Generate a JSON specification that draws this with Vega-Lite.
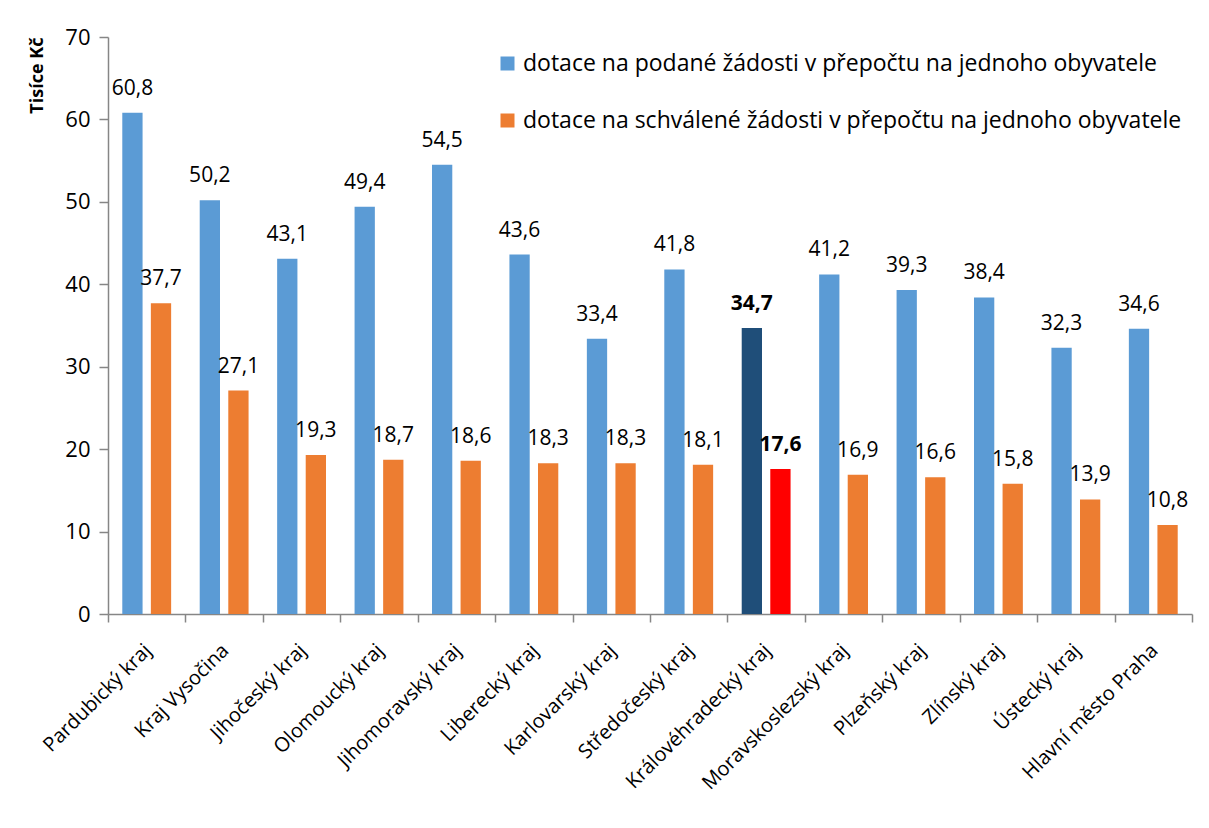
{
  "$schema": "https://vega.github.io/schema/vega-lite/v6.json",
  "width": 1084,
  "height": 577,
  "autosize": {"type": "none"},
  "padding": {"left": 108, "top": 37, "right": 17, "bottom": 214},
  "background": "white",
  "config": {
    "font": "Open Sans",
    "view": {"stroke": null},
    "locale": {"number": {"decimal": ",", "thousands": " ", "grouping": [3], "currency": ["", " Kč"]}},
    "axis": {"domainColor": "#868686", "tickColor": "#868686", "labelColor": "#000000", "domainWidth": 1.5, "tickWidth": 1.5}
  },
  "data": {
    "values": [
      {"kraj": "Pardubický kraj", "typ": "dotace na podané žádosti v přepočtu na jednoho obyvatele", "hodnota": 60.8},
      {"kraj": "Pardubický kraj", "typ": "dotace na schválené žádosti v přepočtu na jednoho obyvatele", "hodnota": 37.7},
      {"kraj": "Kraj Vysočina", "typ": "dotace na podané žádosti v přepočtu na jednoho obyvatele", "hodnota": 50.2},
      {"kraj": "Kraj Vysočina", "typ": "dotace na schválené žádosti v přepočtu na jednoho obyvatele", "hodnota": 27.1},
      {"kraj": "Jihočeský kraj", "typ": "dotace na podané žádosti v přepočtu na jednoho obyvatele", "hodnota": 43.1},
      {"kraj": "Jihočeský kraj", "typ": "dotace na schválené žádosti v přepočtu na jednoho obyvatele", "hodnota": 19.3},
      {"kraj": "Olomoucký kraj", "typ": "dotace na podané žádosti v přepočtu na jednoho obyvatele", "hodnota": 49.4},
      {"kraj": "Olomoucký kraj", "typ": "dotace na schválené žádosti v přepočtu na jednoho obyvatele", "hodnota": 18.7},
      {"kraj": "Jihomoravský kraj", "typ": "dotace na podané žádosti v přepočtu na jednoho obyvatele", "hodnota": 54.5},
      {"kraj": "Jihomoravský kraj", "typ": "dotace na schválené žádosti v přepočtu na jednoho obyvatele", "hodnota": 18.6},
      {"kraj": "Liberecký kraj", "typ": "dotace na podané žádosti v přepočtu na jednoho obyvatele", "hodnota": 43.6},
      {"kraj": "Liberecký kraj", "typ": "dotace na schválené žádosti v přepočtu na jednoho obyvatele", "hodnota": 18.3},
      {"kraj": "Karlovarský kraj", "typ": "dotace na podané žádosti v přepočtu na jednoho obyvatele", "hodnota": 33.4},
      {"kraj": "Karlovarský kraj", "typ": "dotace na schválené žádosti v přepočtu na jednoho obyvatele", "hodnota": 18.3},
      {"kraj": "Středočeský kraj", "typ": "dotace na podané žádosti v přepočtu na jednoho obyvatele", "hodnota": 41.8},
      {"kraj": "Středočeský kraj", "typ": "dotace na schválené žádosti v přepočtu na jednoho obyvatele", "hodnota": 18.1},
      {"kraj": "Královéhradecký kraj", "typ": "dotace na podané žádosti v přepočtu na jednoho obyvatele", "hodnota": 34.7},
      {"kraj": "Královéhradecký kraj", "typ": "dotace na schválené žádosti v přepočtu na jednoho obyvatele", "hodnota": 17.6},
      {"kraj": "Moravskoslezský kraj", "typ": "dotace na podané žádosti v přepočtu na jednoho obyvatele", "hodnota": 41.2},
      {"kraj": "Moravskoslezský kraj", "typ": "dotace na schválené žádosti v přepočtu na jednoho obyvatele", "hodnota": 16.9},
      {"kraj": "Plzeňský kraj", "typ": "dotace na podané žádosti v přepočtu na jednoho obyvatele", "hodnota": 39.3},
      {"kraj": "Plzeňský kraj", "typ": "dotace na schválené žádosti v přepočtu na jednoho obyvatele", "hodnota": 16.6},
      {"kraj": "Zlínský kraj", "typ": "dotace na podané žádosti v přepočtu na jednoho obyvatele", "hodnota": 38.4},
      {"kraj": "Zlínský kraj", "typ": "dotace na schválené žádosti v přepočtu na jednoho obyvatele", "hodnota": 15.8},
      {"kraj": "Ústecký kraj", "typ": "dotace na podané žádosti v přepočtu na jednoho obyvatele", "hodnota": 32.3},
      {"kraj": "Ústecký kraj", "typ": "dotace na schválené žádosti v přepočtu na jednoho obyvatele", "hodnota": 13.9},
      {"kraj": "Hlavní město Praha", "typ": "dotace na podané žádosti v přepočtu na jednoho obyvatele", "hodnota": 34.6},
      {"kraj": "Hlavní město Praha", "typ": "dotace na schválené žádosti v přepočtu na jednoho obyvatele", "hodnota": 10.8}
    ]
  },
  "encoding": {
    "x": {
      "field": "kraj", "type": "nominal", "sort": null,
      "scale": {"paddingInner": 0, "paddingOuter": 0},
      "axis": {"title": null, "labelAngle": -45, "labelFontSize": 20, "labelPadding": 18, "labelOffset": -6, "tickBand": "extent", "tickSize": 8, "labelLimit": 400}
    },
    "xOffset": {
      "field": "typ", "type": "nominal",
      "scale": {"paddingInner": 0.29, "paddingOuter": 0.5}
    },
    "y": {
      "field": "hodnota", "type": "quantitative",
      "scale": {"domain": [0, 70], "nice": false},
      "axis": {"values": [0, 10, 20, 30, 40, 50, 60, 70], "grid": false, "labelFontSize": 22, "tickSize": 9, "labelPadding": 9, "title": "Tisíce Kč", "titleFontSize": 18, "titleFontWeight": "bold", "titleAngle": -90, "titleAlign": "right", "titleBaseline": "top", "titleX": -80, "titleY": 0}
    }
  },
  "layer": [
    {
      "mark": {"type": "bar"},
      "encoding": {
        "color": {
          "field": "typ", "type": "nominal",
          "scale": {"range": ["#5B9BD5", "#ED7D31"]},
          "condition": [
            {"test": "datum.kraj === 'Královéhradecký kraj' && datum.typ === 'dotace na podané žádosti v přepočtu na jednoho obyvatele'", "value": "#1F4E79"},
            {"test": "datum.kraj === 'Královéhradecký kraj'", "value": "#FF0000"}
          ],
          "legend": {
            "title": null, "orient": "none", "legendX": 388, "legendY": 15,
            "symbolType": "square", "symbolSize": 196, "symbolStrokeWidth": 0,
            "labelFontSize": 23, "labelLimit": 800, "labelOffset": 4, "rowPadding": 33
          }
        }
      }
    },
    {
      "transform": [{"filter": "datum.kraj !== 'Královéhradecký kraj'"}],
      "mark": {"type": "text", "fontSize": 21, "baseline": "alphabetic", "dy": -18, "color": "#000000"},
      "encoding": {"text": {"field": "hodnota", "type": "quantitative", "format": ".1f"}}
    },
    {
      "transform": [{"filter": "datum.kraj === 'Královéhradecký kraj'"}],
      "mark": {"type": "text", "fontSize": 21, "fontWeight": "bold", "baseline": "alphabetic", "dy": -18, "color": "#000000"},
      "encoding": {"text": {"field": "hodnota", "type": "quantitative", "format": ".1f"}}
    }
  ]
}
